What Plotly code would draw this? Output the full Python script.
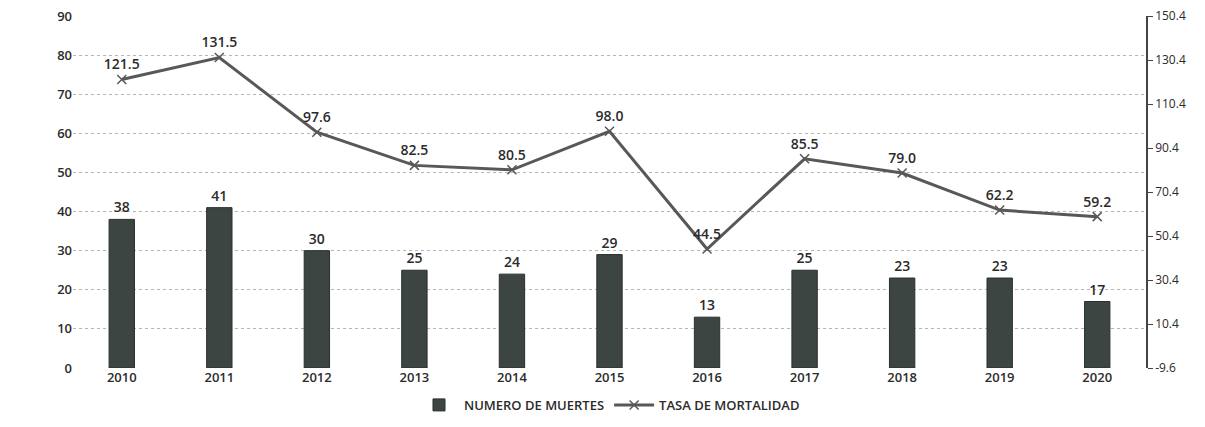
import plotly.graph_objects as go

years = ["2010", "2011", "2012", "2013", "2014", "2015", "2016", "2017", "2018", "2019", "2020"]
muertes = [38, 41, 30, 25, 24, 29, 13, 25, 23, 23, 17]
tasa = [121.5, 131.5, 97.6, 82.5, 80.5, 98.0, 44.5, 85.5, 79.0, 62.2, 59.2]
left_ticks = [0, 10, 20, 30, 40, 50, 60, 70, 80, 90]
right_ticks = [-9.6, 10.4, 30.4, 50.4, 70.4, 90.4, 110.4, 130.4, 150.4]

font_family = "Open Sans, Liberation Sans, sans-serif"
txt_color = "#2b2b2b"

fig = go.Figure()
fig.add_trace(go.Bar(
    x=years, y=muertes, name="NUMERO DE MUERTES",
    marker=dict(color="#3c4541", line=dict(color="#2a2f2d", width=1)),
    width=0.26,
    text=[str(v) for v in muertes], textposition="outside",
    textfont=dict(size=14, color=txt_color, family=font_family, weight=600),
    cliponaxis=False,
))
fig.add_trace(go.Scatter(
    x=years, y=tasa, name="TASA DE MORTALIDAD", yaxis="y2",
    mode="lines+markers+text",
    line=dict(color="#585858", width=3),
    marker=dict(symbol="x-thin", size=9, line=dict(color="#585858", width=1.5), color="#585858"),
    text=[f"{v:.1f}" for v in tasa], textposition="top center",
    textfont=dict(size=14, color=txt_color, family=font_family, weight=600),
    cliponaxis=False,
))

fig.update_layout(
    width=1205, height=427,
    margin=dict(l=65, r=67, t=8, b=67, autoexpand=False),
    paper_bgcolor="white", plot_bgcolor="white",
    font=dict(family=font_family, color=txt_color, size=12),
    showlegend=True,
    legend=dict(orientation="h", x=0.5, xanchor="center", y=-0.105, yanchor="middle",
                font=dict(size=13, color=txt_color, weight=600), traceorder="normal",
                itemwidth=40),
    xaxis=dict(type="category", range=[-0.5, 10.5], showgrid=False, showline=False, ticks="",
               tickfont=dict(size=13, color=txt_color, weight=600)),
    yaxis=dict(range=[0, 90], tickvals=left_ticks, showgrid=True,
               gridcolor="#b5b5b5", griddash="dot", gridwidth=1,
               zeroline=False, showline=False, ticks="", ticklabeloverflow="allow",
               tickfont=dict(size=13, color=txt_color, weight=600)),
    yaxis2=dict(range=[-9.6, 150.4], tickvals=right_ticks,
                ticktext=[f"{v:.1f}" for v in right_ticks],
                overlaying="y", side="right", showgrid=False, zeroline=False,
                showline=True, linecolor="#444444", linewidth=1.5,
                ticks="outside", ticklen=5, tickcolor="#444444", ticklabeloverflow="allow",
                tickfont=dict(size=12, color=txt_color)),
)

fig.write_html("out.html")
